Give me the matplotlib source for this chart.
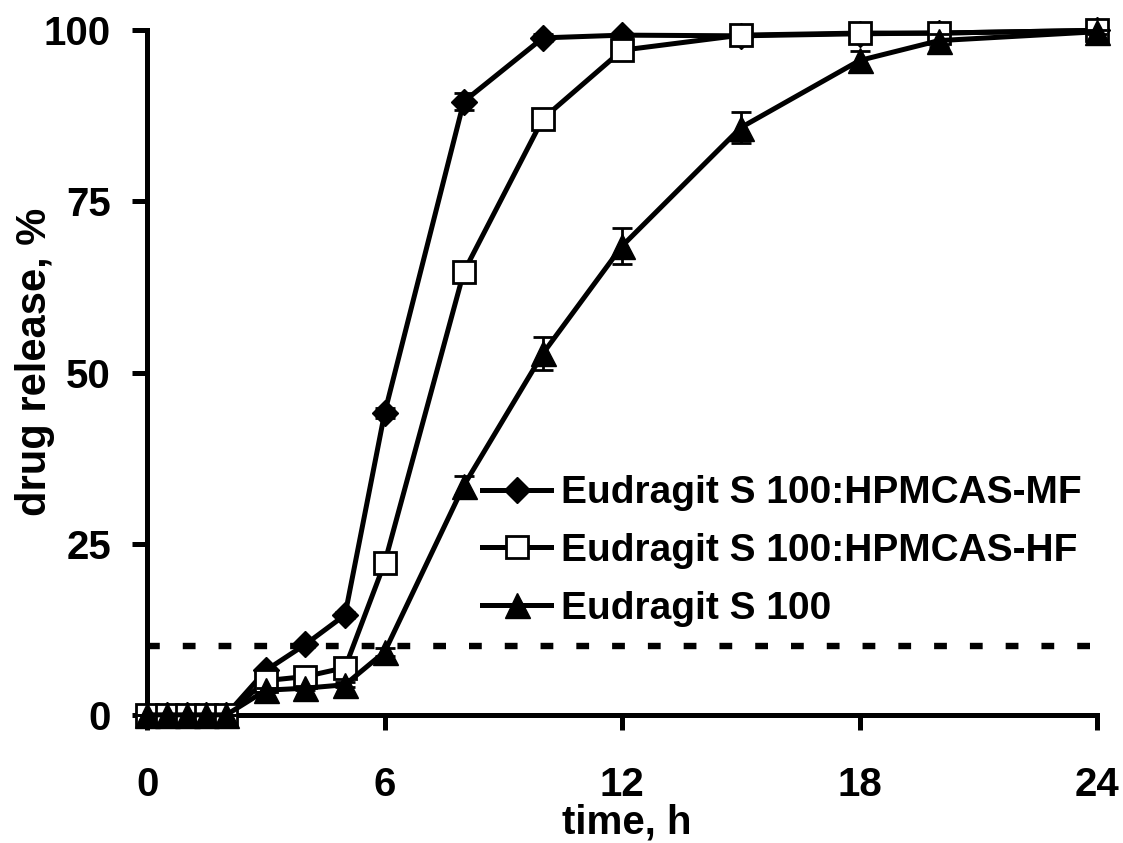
import matplotlib.pyplot as plt

plt.rcParams['font.family'] = ['Liberation Sans', 'DejaVu Sans']
plt.rcParams['font.weight'] = 'bold'

time_h = [0, 0.5, 1, 1.5, 2, 3, 4, 5, 6, 8, 10, 12, 15, 18, 20, 24]

mf = [0, 0, 0, 0, 0, 6.5, 10.3, 14.6, 44.1, 89.6, 98.9, 99.3, 99.2, 99.5, 99.6, 100]
mf_err = [0, 0, 0, 0, 0, 0.3, 0.4, 0.5, 0.8, 1.2, 0.5, 0.3, 0.4, 0.3, 0.3, 0.2]

hf = [0, 0, 0, 0, 0, 5.0, 5.6, 6.9, 22.2, 64.7, 87.1, 97.1, 99.3, 99.6, 99.6, 100]
hf_err = [0, 0, 0, 0, 0, 0.3, 0.3, 0.4, 0.6, 0.8, 0.7, 0.6, 0.5, 0.3, 0.3, 0.2]

s100 = [0, 0, 0, 0, 0, 3.6, 3.9, 4.4, 9.2, 33.5, 52.8, 68.5, 85.8, 95.6, 98.5, 99.8]
s100_err = [0, 0, 0, 0, 0, 0.3, 0.3, 0.4, 0.6, 1.4, 2.4, 2.6, 2.3, 1.4, 0.9, 0.3]

labels = ['Eudragit S 100:HPMCAS-MF', 'Eudragit S 100:HPMCAS-HF', 'Eudragit S 100']
threshold = 10

fig = plt.figure(figsize=(11.23, 8.43), dpi=100)
ax = fig.add_axes([0.131, 0.152, 0.846, 0.812])

series = [
    (mf, mf_err, dict(marker='D', ms=13, mfc='black', mec='black'), 3),
    (hf, hf_err, dict(marker='s', ms=16, mfc='white', mec='black', mew=2), 4),
    (s100, s100_err, dict(marker='^', ms=18, mfc='black', mec='black'), 5),
]
for (vals, err, style, z), lab in zip(series, labels):
    ax.errorbar(time_h, vals, yerr=err, fmt='none', ecolor='black', elinewidth=2,
                capsize=7, capthick=2, clip_on=False, zorder=z)
    ax.plot(time_h, vals, color='black', lw=3.6, label=lab, clip_on=False,
            zorder=z, **style)

# 10 % threshold
ax.plot([0, 24], [threshold, threshold], color='black', lw=4.6,
        linestyle=(0, (2, 3.6)), zorder=2)

ax.set_xlim(0, 24)
ax.set_ylim(0, 100)
ax.set_xticks([0, 6, 12, 18, 24])
ax.set_yticks([0, 25, 50, 75, 100])

for s in ['top', 'right']:
    ax.spines[s].set_visible(False)
for s in ['left', 'bottom']:
    ax.spines[s].set_linewidth(3.6)

ax.tick_params(axis='x', direction='out', length=11, width=3.6, pad=26, labelsize=29)
ax.tick_params(axis='y', direction='out', length=11, width=3.6, pad=15, labelsize=29)

ax.set_xlabel('time, h', fontsize=29, fontweight='bold')
ax.set_ylabel('drug release, %', fontsize=30, fontweight='bold')
ax.xaxis.set_label_coords(0.505, -0.13)
ax.yaxis.set_label_coords(-0.097, 0.515)

ax.legend(loc='upper left', bbox_to_anchor=(0.353, 0.35), frameon=False,
          handlelength=1.77, handletextpad=0.26, labelspacing=0.56,
          borderpad=0, borderaxespad=0, prop={'weight': 'bold', 'size': 28})

fig.savefig('out.png', dpi=100)
